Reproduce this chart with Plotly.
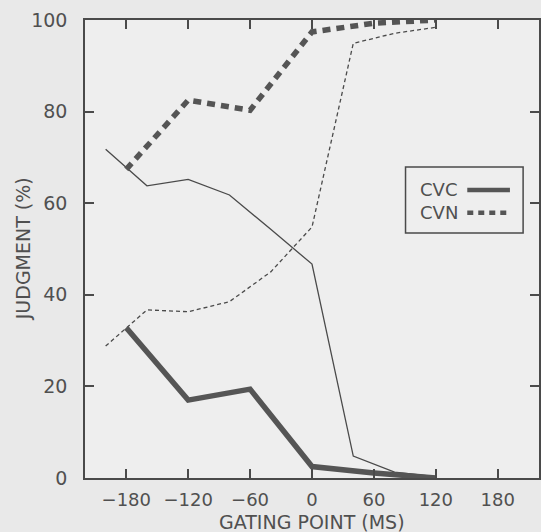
import plotly.graph_objects as go

# ---- data ----
gate_thick = [-180, -120, -60, 0, 60, 120]
cvc_thick = [32.8, 17.0, 19.4, 2.5, 1.1, 0.0]
cvn_thick = [67.4, 82.5, 80.3, 97.4, 99.3, 100.0]

gate_thin = [-200, -160, -120, -80, -40, 0, 40, 80, 120]
cvc_thin = [71.8, 63.8, 65.2, 61.8, 54.3, 46.7, 4.8, 1.3, 0.3]
cvn_thin = [28.8, 36.7, 36.3, 38.5, 45.0, 54.8, 94.9, 97.1, 98.4]

x_ticks = [-180, -120, -60, 0, 60, 120, 180]
x_ticktext = ["\u2212180", "\u2212120", "\u221260", "0", "60", "120", "180"]
y_ticks = [0, 20, 40, 60, 80, 100]

x_title = "GATING POINT (MS)"
y_title = "JUDGMENT (%)"
legend_labels = ["CVC", "CVN"]

INK = "#4a4a4a"
TXT = "#505050"
LINE = "#555555"
FONT = "DejaVu Sans"

fig = go.Figure()
fig.add_trace(go.Scatter(x=gate_thin, y=cvc_thin, mode="lines",
                         line=dict(color=INK, width=1.3), showlegend=False))
fig.add_trace(go.Scatter(x=gate_thin, y=cvn_thin, mode="lines",
                         line=dict(color=INK, width=1.3, dash="4px,3px"), showlegend=False))
fig.add_trace(go.Scatter(x=gate_thick, y=cvc_thick, mode="lines",
                         line=dict(color=LINE, width=5.5), showlegend=False))
fig.add_trace(go.Scatter(x=gate_thick, y=cvn_thick, mode="lines",
                         line=dict(color=LINE, width=5.5, dash="8px,6px"), showlegend=False))

axis_common = dict(
    showgrid=False, zeroline=False, showline=True, linecolor=INK, linewidth=1.5,
    mirror="ticks", ticks="inside", ticklen=9, tickwidth=1.5, tickcolor=INK,
)

fig.update_xaxes(range=[-220, 220], tickvals=x_ticks, ticktext=x_ticktext,
                 ticklabelstandoff=5,
                 tickfont=dict(family=FONT, size=18, color=TXT),
                 **axis_common)
fig.update_yaxes(range=[0, 100], tickvals=y_ticks,
                 ticklabelstandoff=12,
                 tickfont=dict(family=FONT, size=19, color=TXT),
                 **axis_common)

# axis titles placed as in the reference
fig.add_annotation(xref="paper", yref="paper", x=0.5, y=-0.095, text=x_title,
                   showarrow=False, xanchor="center", yanchor="middle",
                   font=dict(family=FONT, size=19, color=TXT))
fig.add_annotation(xref="paper", yref="paper", x=-0.136, y=0.5, text=y_title,
                   showarrow=False, xanchor="center", yanchor="middle", textangle=-90,
                   font=dict(family=FONT, size=19, color=TXT))

# manual legend (label then line sample, as in the reference)
fig.add_shape(type="rect", xref="paper", yref="paper",
              x0=0.706, x1=0.965, y0=0.535, y1=0.679,
              line=dict(color=INK, width=1.5), fillcolor="rgba(0,0,0,0)")
legend_y = [0.629, 0.579]
legend_dash = ["solid", "6px,5px"]
for lab, yy, dsh in zip(legend_labels, legend_y, legend_dash):
    fig.add_annotation(xref="paper", yref="paper", x=0.733, y=yy, text=lab,
                       showarrow=False, xanchor="left", yanchor="middle",
                       font=dict(family=FONT, size=18, color=TXT))
    fig.add_shape(type="line", xref="paper", yref="paper",
                  x0=0.842, x1=0.936, y0=yy, y1=yy,
                  line=dict(color=LINE, width=4.5, dash=dsh))

fig.update_layout(
    width=541, height=532,
    margin=dict(l=85, r=0, t=20, b=54),
    paper_bgcolor="#e9e9e9", plot_bgcolor="#eeeeee",
    showlegend=False,
)

fig.write_html("out.html")
